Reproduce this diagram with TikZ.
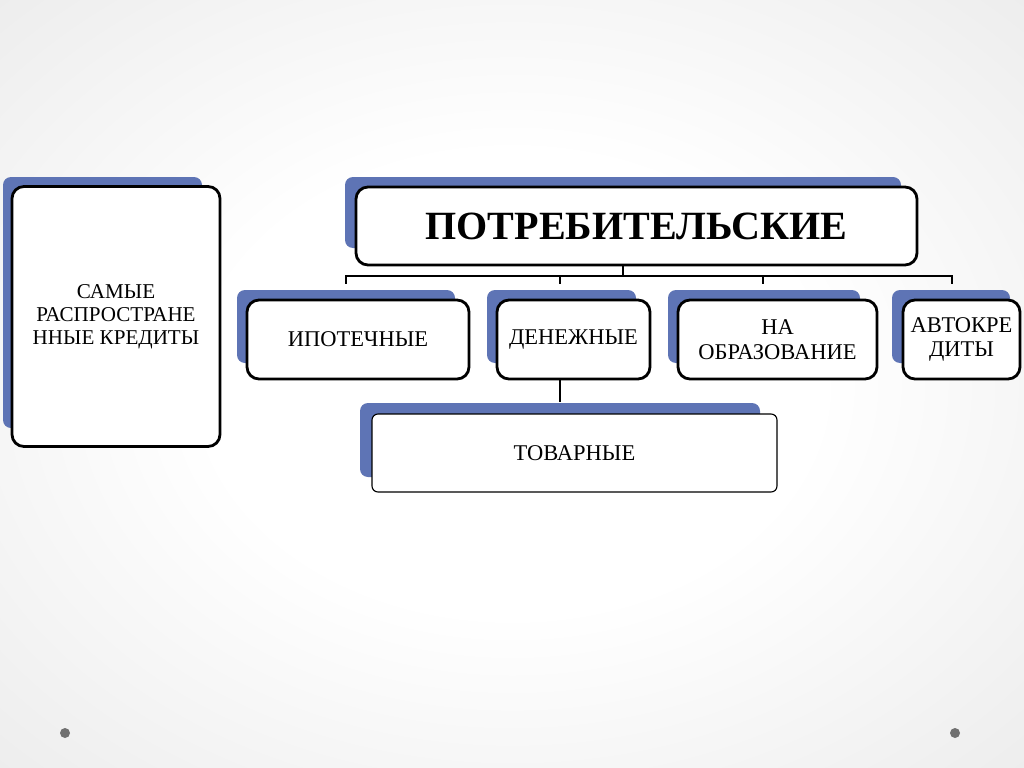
\documentclass[tikz,border=0pt]{standalone}
\usepackage{fontspec}
\setmainfont{Liberation Serif}
\usetikzlibrary{calc}

\definecolor{plateblue}{RGB}{94,116,181}
\definecolor{dotgray}{RGB}{112,112,112}
\pgfdeclareradialshading{slidebg}{\pgfpoint{0bp}{0bp}}{color(0bp)=(white); color(15bp)=(white); color(50bp)=(gray!24); color(72bp)=(gray!34)}

\tikzset{
  card/.style={draw=black,line width=2pt,fill=white,rounded corners=3mm,align=center,inner sep=2pt,
    font=\fontsize{16}{17.5}\selectfont},
  plate/.style={fill=plateblue,rounded corners=2mm},
  link/.style={line width=1.5pt}
}

\begin{document}
\begin{tikzpicture}[x=0.25mm,y=-0.25mm]
  \useasboundingbox (0,0) rectangle (1024,767);
  \shade[shading=slidebg] (0,0) rectangle (1024,767);
  \fill[dotgray] (65,733) circle (1.25mm);
  \fill[dotgray] (955,733) circle (1.25mm);
  % blue plates behind the cards
  \fill[plate] (3,177) rectangle (202,428);
  \fill[plate] (345,177) rectangle (901,248);
  \fill[plate] (237,290) rectangle (455,363);
  \fill[plate] (487,290) rectangle (636,363);
  \fill[plate] (668,290) rectangle (860,363);
  \fill[plate] (892,290) rectangle (1010,363);
  \fill[plate] (360,403) rectangle (760,477);
  % cards
  \node[card,minimum width=52mm,minimum height=65mm,font=\fontsize{15}{16.5}\selectfont] (sam) at (116,316.5)
    {САМЫЕ\\РАСПРОСТРАНЕ\\ННЫЕ КРЕДИТЫ};
  \node[card,minimum width=140.25mm,minimum height=19.5mm,font=\bfseries\fontsize{28.5}{32}\selectfont] (potr) at (636.5,226)
    {ПОТРЕБИТЕЛЬСКИЕ};
  \node[card,minimum width=55.5mm,minimum height=19.75mm] (ipot) at (358,339.5) {ИПОТЕЧНЫЕ};
  \node[card,minimum width=38.25mm,minimum height=19.75mm] (den) at (573.5,339.5) {ДЕНЕЖНЫЕ};
  \node[card,minimum width=49.75mm,minimum height=19.75mm] (obr) at (777.5,339.5) {НА\\ОБРАЗОВАНИЕ};
  \node[card,minimum width=29.25mm,minimum height=19.75mm] (avto) at (961.5,339.5) {АВТОКРЕ\\ДИТЫ};
  \node[card,line width=0.8pt,rounded corners=1.5mm,minimum width=101.25mm,minimum height=19.5mm] (tov) at (574.5,453)
    {ТОВАРНЫЕ};
  % connectors
  \foreach \c/\dx in {ipot/-12,den/-13.5,obr/-14.5,avto/-9.5}
    \draw[link] ($(potr.south)+(-13.5,0)$) -- ++(0,10) -| ($(\c.north)+(\dx,-15)$);
  \draw[link] ($(den.south)+(-13.5,0)$) -- ($(tov.north)+(-14.5,-11)$);
\end{tikzpicture}
\end{document}
